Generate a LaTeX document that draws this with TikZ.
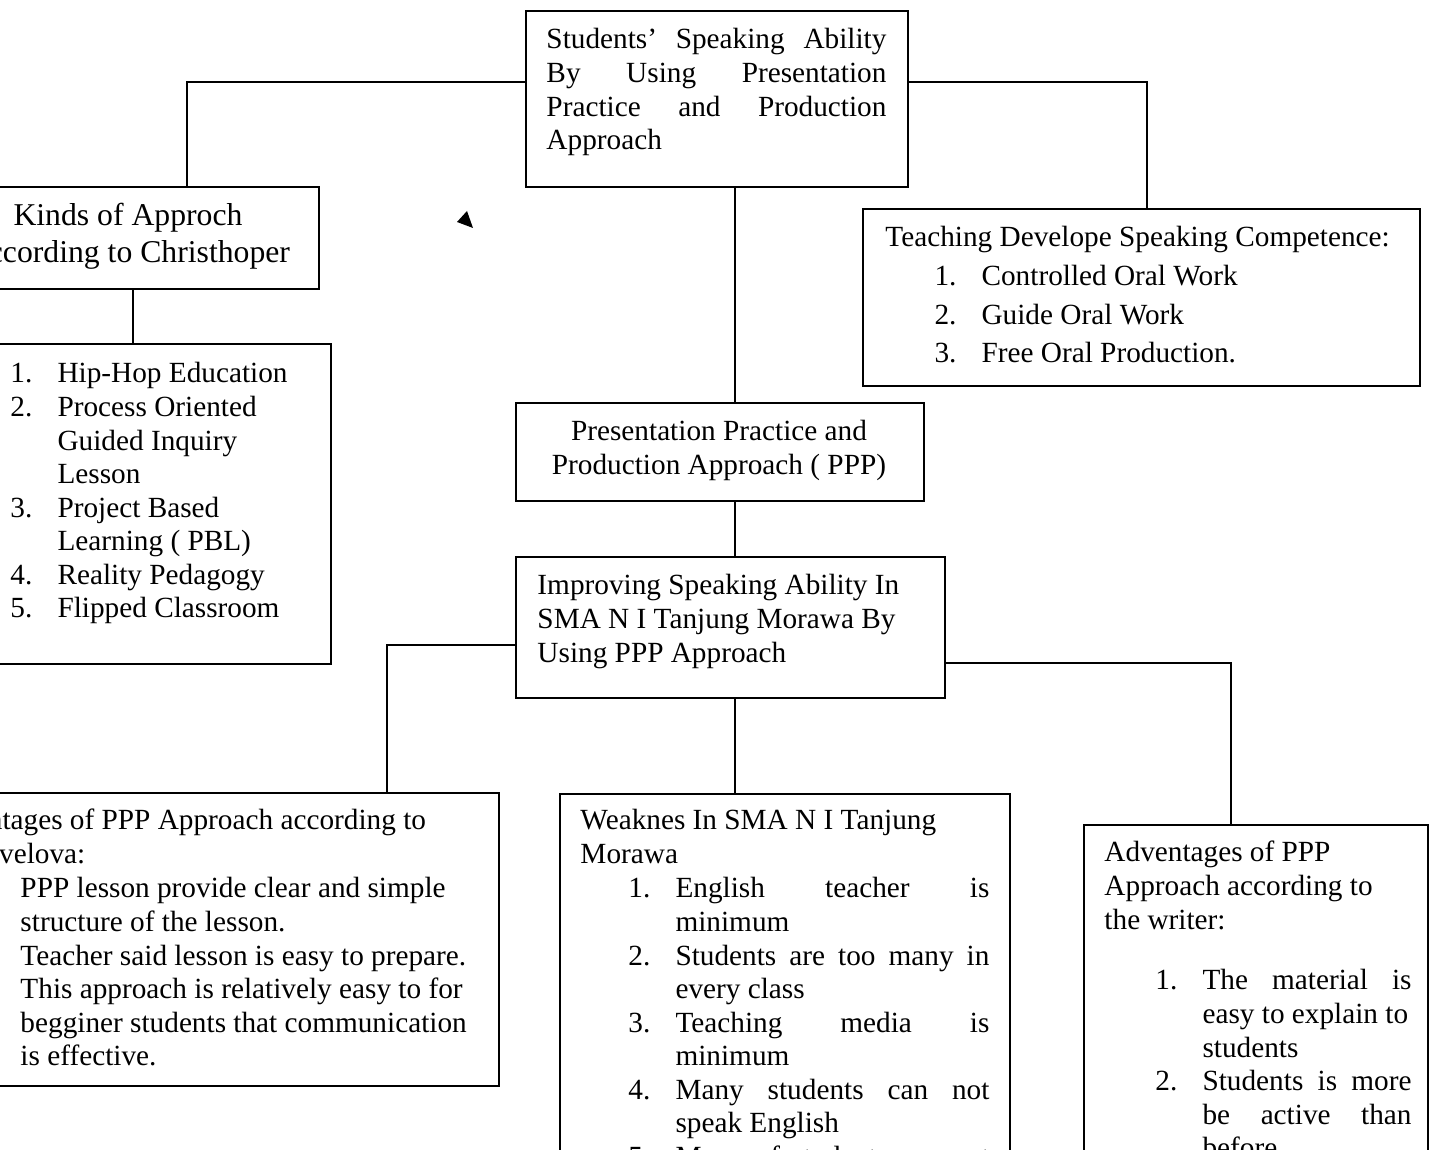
\documentclass[tikz,border=0pt]{standalone}
\usepackage{fontspec}
\setmainfont{Liberation Serif}

\newcommand{\itm}[1]{\makebox[19.3pt][l]{#1}}
\newcommand{\indt}{\hspace*{19.3pt}}

\tikzset{
  box/.style={draw, line width=0.8pt, inner sep=0pt, anchor=north west},
  boxsize/.style 2 args={minimum width=#1*0.41pt, minimum height=#2*0.41pt},
  txt/.style={inner sep=0pt, anchor=base west, align=justify, font=\fontsize{12}{13.74}\selectfont},
  midtxt/.style={inner sep=0pt, anchor=base, align=flush center, text width=200pt, font=\fontsize{12}{13.74}\selectfont},
  link/.style={line width=0.8pt},
}

\begin{document}
\begin{tikzpicture}[x=0.41pt, y=-0.41pt]
  \fill[white] (0,0) rectangle (1429,1150);
  \useasboundingbox (0,0) rectangle (1429,1150);
  \clip (0,0) rectangle (1429,1150);
  %% boxes
  \node[box, boxsize={382}{176}] (ability) at (525,10) {};
  \node[box, boxsize={380}{102}] (kinds) at (-62,186) {};
  \node[box, boxsize={372}{320}] (kindslist) at (-42,343) {};
  \node[box, boxsize={557}{177}] (teach) at (862,208) {};
  \node[box, boxsize={408}{98}] (ppp) at (515,402) {};
  \node[box, boxsize={429}{141}] (improve) at (515,556) {};
  \node[box, boxsize={560}{293}] (advleft) at (-62,792) {};
  \node[box, boxsize={450}{420}] (weak) at (559,793) {};
  \node[box, boxsize={344}{380}] (advright) at (1083,824) {};
  %% texts
  \node[txt, text width=139.4pt] (abilitytxt) at (546,49)
    {Students’\hfill Speaking\hfill Ability\\
     By\hfill Using\hfill Presentation\\
     Practice\hfill and\hfill Production\\
     Approach};
  \node[midtxt, font=\fontsize{13}{15.17}\selectfont] (kindstxt) at (128,226)
    {Kinds of Approch\\According to Christhoper};
  \node[txt, text width=130pt] (kindslisttxt) at (10,383)
    {\itm{1.}Hip-Hop Education\\
     \itm{2.}Process Oriented\\
     \indt Guided Inquiry\\
     \indt Lesson\\
     \itm{3.}Project Based\\
     \indt Learning ( PBL)\\
     \itm{4.}Reality Pedagogy\\
     \itm{5.}Flipped Classroom};
  \node[txt, text width=215pt, font=\fontsize{12}{15.8}\selectfont] (teachtxt) at (885,247)
    {Teaching Develope Speaking Competence:\\
     \hspace*{20.1pt}\itm{1.}Controlled Oral Work\\
     \hspace*{20.1pt}\itm{2.}Guide Oral Work\\
     \hspace*{20.1pt}\itm{3.}Free Oral Production.};
  \node[midtxt] (ppptxt) at (719,441)
    {Presentation Practice and\\Production Approach ( PPP)};
  \node[txt, text width=170pt] (improvetxt) at (537,595)
    {Improving Speaking Ability In\\
     SMA N I Tanjung Morawa By\\
     Using PPP Approach};
  %% left advantages
  \node[txt, text width=225pt] (advlefttitle) at (-76,830)
    {Adventages of PPP Approach according to\\
     \hspace*{2.55em}velova:};
  \node[txt, text width=200pt] (advlefttxt) at (20,898)
    {PPP lesson provide clear and simple\\
     structure of the lesson.\\
     Teacher said lesson is easy to prepare.\\
     This approach is relatively easy to for\\
     begginer students that communication\\
     is effective.};
  %% weakness
  \node[txt, text width=180pt] (weaktitle) at (580,830)
    {Weaknes In SMA N I Tanjung\\Morawa};
  \node[txt, text width=148pt] (weaktxt) at (628,898)
    {\itm{1.}English\hfill teacher\hfill is\\
     \indt minimum\\
     \itm{2.}Students\hfill are\hfill too\hfill many\hfill in\\
     \indt every class\\
     \itm{3.}Teaching\hfill media\hfill is\\
     \indt minimum\\
     \itm{4.}Many\hfill students\hfill can\hfill not\\
     \indt speak English\\
     \itm{5.}Many\hfill of\hfill students\hfill can\hfill not};
  %% right advantages
  \node[txt, text width=130pt] (advrighttitle) at (1104,862)
    {Adventages of PPP\\
     Approach according to\\
     the writer:};
  \node[txt, text width=105pt] (advrighttxt) at (1155,990)
    {\itm{1.}The\hfill material\hfill is\\
     \indt easy to explain to\\
     \indt students\\
     \itm{2.}Students\hfill is\hfill more\\
     \indt be\hfill active\hfill than\\
     \indt before};
  %% connectors
  \coordinate (lk) at (187,82);
  \coordinate (rk) at (1147,82);
  \coordinate (spine) at (735,0);
  \coordinate (kl) at (133,0);
  \coordinate (bl) at (387,645);
  \coordinate (br) at (1231,663);
  \draw[link] (ability.west |- lk) -- (lk) -- (kinds.north -| lk);
  \draw[link] (ability.east |- rk) -- (rk) -- (teach.north -| rk);
  \draw[link] (kinds.south -| kl) -- (kindslist.north -| kl);
  \draw[link] (ability.south -| spine) -- (ppp.north -| spine);
  \draw[link] (ppp.south -| spine) -- (improve.north -| spine);
  \draw[link] (improve.south -| spine) -- (weak.north -| spine);
  \draw[link] (improve.west |- bl) -- (bl) -- (advleft.north -| bl);
  \draw[link] (improve.east |- br) -- (br) -- (advright.north -| br);
  %% stray tip
  \fill (457,222) -- (467,211) -- (473,228) -- cycle;
\end{tikzpicture}
\end{document}
